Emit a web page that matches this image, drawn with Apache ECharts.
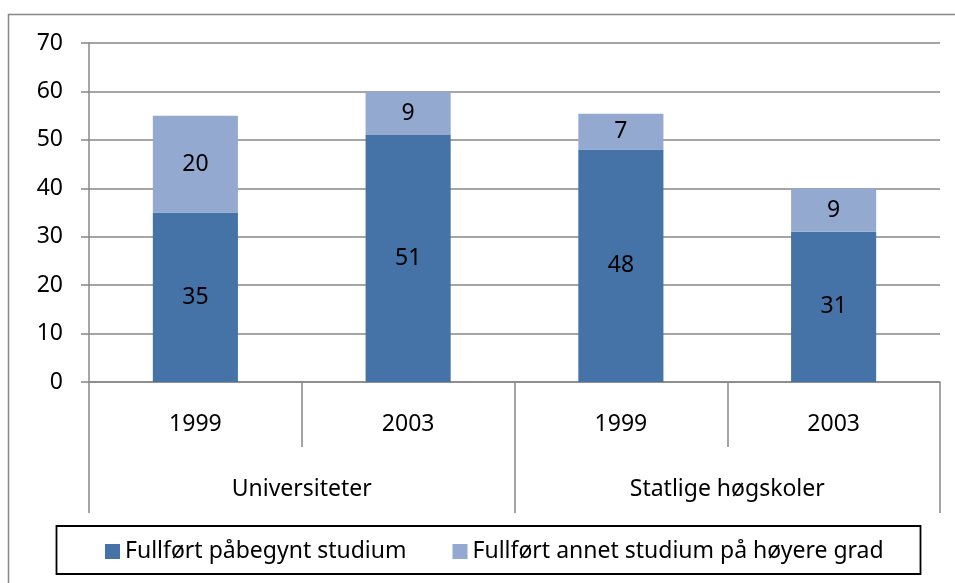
<!DOCTYPE html>
<html>
<head>
<meta charset="utf-8">
<script src="https://cdn.jsdelivr.net/npm/echarts@6/dist/echarts.min.js"></script>
<style>
html,body{margin:0;padding:0;background:#fff;}
#chart{width:955px;height:583px;}
</style>
</head>
<body>
<div id="chart"></div>
<script>
// Data
var years = ['1999', '2003', '1999', '2003'];
var groups = ['Universiteter', 'Statlige høgskoler'];
var seriesNames = ['Fullført påbegynt studium', 'Fullført annet studium på høyere grad'];
var completedStarted = [35, 51, 48, 31];
var completedOther = [20, 9, 7.4, 9];
var yTicks = [0, 10, 20, 30, 40, 50, 60, 70];

var FONT = 'Noto Sans';
var FS = 23;
var chart = echarts.init(document.getElementById('chart'), null, {renderer: 'canvas'});

var labelCfg = {
  show: true,
  position: 'inside',
  color: '#000',
  fontFamily: FONT,
  fontSize: FS,
  formatter: function (p) { return Math.round(p.value); }
};

chart.setOption({
  backgroundColor: '#fff',
  animation: false,
  textStyle: {fontFamily: FONT},
  graphic: [
    {type: 'rect', shape: {x: 8.5, y: 14.5, width: 960, height: 600}, style: {fill: 'none', stroke: '#878787', lineWidth: 1.5}, z: -1},
    {type: 'rect', shape: {x: 56.5, y: 526, width: 864, height: 48}, style: {fill: '#fff', stroke: '#000', lineWidth: 1.8}, z: 0}
  ],
  grid: {left: 89, right: 15, top: 43, bottom: 201, containLabel: false},
  legend: {
    data: seriesNames,
    left: 100,
    top: 535,
    itemWidth: 15,
    itemHeight: 15,
    itemGap: 46,
    icon: 'rect',
    textStyle: {fontFamily: FONT, fontSize: FS, color: '#000'},
    z: 5
  },
  xAxis: [
    {
      type: 'category',
      data: years,
      position: 'bottom',
      axisLine: {show: true, lineStyle: {color: '#878787', width: 1.5}},
      axisTick: {show: true, interval: 0, length: 65, lineStyle: {color: '#878787', width: 1.5}},
      axisLabel: {interval: 0, margin: 31, color: '#000', fontFamily: FONT, fontSize: FS},
      splitLine: {show: false}
    },
    {
      type: 'category',
      data: groups,
      position: 'bottom',
      axisLine: {show: false},
      axisTick: {show: true, interval: 0, length: 131, lineStyle: {color: '#878787', width: 1.5}},
      axisLabel: {interval: 0, margin: 96, color: '#000', fontFamily: FONT, fontSize: FS},
      splitLine: {show: false}
    }
  ],
  yAxis: {
    type: 'value',
    min: yTicks[0],
    max: yTicks[yTicks.length - 1],
    interval: 10,
    axisLine: {show: true, lineStyle: {color: '#878787', width: 1.5}},
    axisTick: {show: true, length: 8, lineStyle: {color: '#878787', width: 1.5}},
    axisLabel: {margin: 26, color: '#000', fontFamily: FONT, fontSize: FS},
    splitLine: {show: true, lineStyle: {color: '#878787', width: 1.5}}
  },
  series: [
    {
      name: seriesNames[0],
      type: 'bar',
      stack: 'total',
      xAxisIndex: 0,
      barWidth: '40%',
      data: completedStarted,
      itemStyle: {color: '#4572A7'},
      label: labelCfg
    },
    {
      name: seriesNames[1],
      type: 'bar',
      stack: 'total',
      xAxisIndex: 0,
      barWidth: '40%',
      data: completedOther,
      itemStyle: {color: '#94A9D0'},
      label: labelCfg
    }
  ]
});
</script>
</body>
</html>
